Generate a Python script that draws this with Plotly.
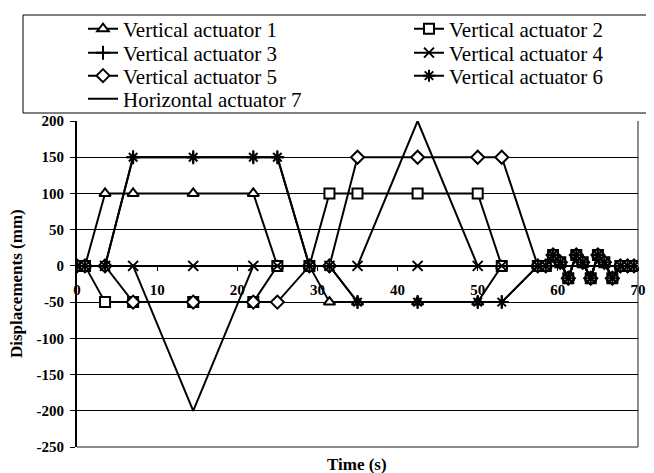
import plotly.graph_objects as go

# ---- data ----
time_s = [0, 1, 3.5, 7, 14.5, 22, 25, 29, 31.5, 35, 42.5, 50, 53, 57.5,
          58.5, 59.4, 60.3, 61.3, 62.3, 63.1, 64.1, 65.0, 65.8, 66.8, 67.8, 68.7, 69.5]
osc = [0, 15, 5, -17, 15, 5, -17, 15, 5, -17, 0, 0, 0]

va1 = [0, 0, 100, 100, 100, 100, 0, 0, -50, -50, -50, -50, 0, 0] + osc
va2 = [0, 0, -50, -50, -50, -50, 0, 0, 100, 100, 100, 100, 0, 0] + osc
va3 = [0, 0, 0, 150, 150, 150, 150, 0, 0, -50, -50, -50, -50, 0] + osc
va4 = [0, 0, 0, 0, 0, 0, 0, 0, 0, 0, 0, 0, 0, 0] + osc
va5 = [0, 0, 0, -50, -50, -50, -50, 0, 0, 150, 150, 150, 150, 0] + osc
va6 = [0, 0, 0, 150, 150, 150, 150, 0, 0, -50, -50, -50, -50, 0] + osc
ha7 = [0, 0, 0, 0, -200, 0, 0, 0, 0, 0, 200, 0, 0, 0] + [0] * 13

names = ["Vertical actuator 1", "Vertical actuator 2", "Vertical actuator 3",
         "Vertical actuator 4", "Vertical actuator 5", "Vertical actuator 6",
         "Horizontal actuator 7"]
series = [va1, va2, va3, va4, va5, va6, ha7]
symbols = ["triangle-up", "square", "cross-thin-open", "x-thin-open",
           "diamond", "asterisk-open", None]

x_ticks = [0, 10, 20, 30, 40, 50, 60, 70]
y_ticks = [-250, -200, -150, -100, -50, 0, 50, 100, 150, 200]

SERIF = "Liberation Serif, Times New Roman, serif"

# page offset: the html body has an 8px margin
OFF = 8
W, H = 654 - OFF, 473 - OFF
# plot area in reference-picture pixels
PL, PR, PT, PB = 77, 638, 121, 447
pw, ph = PR - PL, PB - PT


def px_x(p):
    return (p - PL) / pw


def px_y(p):
    return (PB - p) / ph


# legend grid (reference pixels): text start per column, symbol-line y per row
col_text = [123, 449]
row_y = [29, 53, 76, 99]
legend_cells = [(0, 0), (1, 0), (0, 1), (1, 1), (0, 2), (1, 2), (0, 3)]

fig = go.Figure()
layout_legends = {}
for i, (name, ys, sym) in enumerate(zip(names, series, symbols)):
    key = "legend" if i == 0 else f"legend{i + 1}"
    if sym is None:
        mode = "lines"
        marker = None
    else:
        mode = "lines+markers"
        fill = "black" if sym.endswith("open") else "white"
        marker = dict(symbol=sym, size=10, color=fill,
                      line=dict(color="black", width=2))
    fig.add_trace(go.Scatter(
        x=time_s, y=ys, name=name, mode=mode, marker=marker,
        line=dict(color="black", width=2), legend=key))
    c, r = legend_cells[i]
    layout_legends[key] = dict(
        orientation="v", x=px_x(col_text[c] - 40), y=px_y(row_y[r]),
        xanchor="left", yanchor="middle",
        bgcolor="rgba(0,0,0,0)", borderwidth=0,
        font=dict(family=SERIF, size=21, color="black"))

fig.update_layout(
    width=W, height=H,
    margin=dict(l=PL - OFF, r=W - (PR - OFF), t=PT - OFF, b=H - (PB - OFF),
                autoexpand=False),
    paper_bgcolor="white", plot_bgcolor="white",
    font=dict(family=SERIF, color="black"),
    showlegend=True,
    xaxis=dict(range=[0, 70], tickvals=x_ticks, ticktext=[str(v) for v in x_ticks],
               anchor="free", position=250 / 450, showgrid=False, zeroline=False,
               showline=True, linecolor="black", linewidth=2,
               ticks="outside", ticklen=4, tickcolor="black", tickwidth=1,
               ticklabelstandoff=6,
               tickfont=dict(family=SERIF, size=15, color="black", weight="bold")),
    yaxis=dict(range=[-250, 200], tickvals=y_ticks, ticktext=[str(v) for v in y_ticks],
               showgrid=True, gridcolor="black", gridwidth=1, zeroline=False,
               showline=True, linecolor="black", linewidth=2,
               ticks="outside", ticklen=5, tickcolor="black", tickwidth=1,
               ticklabelstandoff=3,
               tickfont=dict(family=SERIF, size=15, color="black", weight="bold")),
    shapes=[
        # legend box (runs off the right edge, as in the reference)
        dict(type="rect", xref="paper", yref="paper",
             x0=px_x(23), x1=px_x(662), y0=px_y(113), y1=px_y(15),
             line=dict(color="black", width=1), fillcolor="white", layer="below"),
        # grey plot-area frame: right and bottom sides
        dict(type="line", xref="paper", yref="paper", x0=1, x1=1, y0=0, y1=1,
             line=dict(color="#8c8c8c", width=2), layer="below"),
        dict(type="line", xref="paper", yref="paper", x0=0, x1=1, y0=0, y1=0,
             line=dict(color="#8c8c8c", width=2), layer="below"),
    ],
    annotations=[
        dict(text="<b>Time (s)</b>", xref="paper", yref="paper",
             x=px_x(357), y=px_y(464), xanchor="center", yanchor="middle",
             showarrow=False, font=dict(family=SERIF, size=17, color="black")),
        dict(text="<b>Displacements (mm)</b>", xref="paper", yref="paper",
             x=px_x(16), y=px_y(284), xanchor="center", yanchor="middle",
             textangle=-90,
             showarrow=False, font=dict(family=SERIF, size=17, color="black")),
    ],
    **layout_legends,
)

fig.write_html("out.html")
